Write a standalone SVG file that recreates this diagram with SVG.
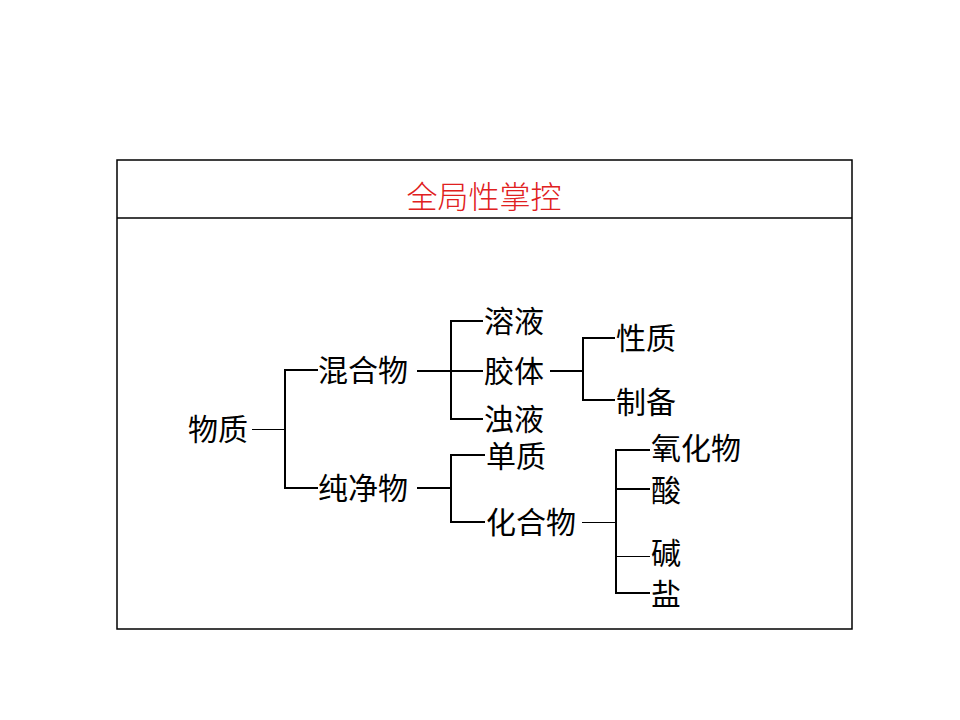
<svg xmlns="http://www.w3.org/2000/svg" width="960" height="720" viewBox="0 0 960 720">
  <style>
    .frame { fill: none; stroke: #000; stroke-width: 1.5; }
    .title { font-family: "Noto Sans CJK SC", sans-serif; font-size: 31px; fill: #e02020; font-weight: 300; }
    .label { font-family: "Noto Sans CJK SC", sans-serif; font-size: 30px; fill: #000; }
    .thick { fill: none; stroke: #000; stroke-width: 2; }
    .thin { fill: none; stroke: #000; stroke-width: 1; shape-rendering: crispEdges; }
  </style>
  <rect width="960" height="720" fill="#fff"/>

  <!-- table frame with heading row -->
  <g id="frame">
    <rect class="frame" x="117" y="160" width="735" height="469"/>
    <line class="frame" x1="117" y1="218" x2="852" y2="218"/>
    <text class="title" x="484" y="194" text-anchor="middle" dominant-baseline="central">全局性掌控</text>
  </g>

  <!-- connectors -->
  <g id="connectors">
    <path class="thin" d="M252 429.5 H285"/>
    <path class="thick" d="M318 370 H285 V488 H318"/>
    <path class="thick" d="M417 371 H483 M483 321 H451 V419 H483"/>
    <path class="thick" d="M417 488 H451 M485 455 H451 V522 H485"/>
    <path class="thick" d="M550 371 H583 M615 338 H583 V400 H615"/>
    <path class="thin" d="M582 522.5 H616"/>
    <path class="thick" d="M650 450 H616 V593 H650 M616 489 H650"/>
    <path class="thin" d="M616 556.5 H650"/>
  </g>

  <g id="n-wuzhi"><text class="label" x="188" y="427" dominant-baseline="central">物质</text></g>
  <g id="n-hunhewu"><text class="label" x="318" y="368" dominant-baseline="central">混合物</text></g>
  <g id="n-chunjingwu"><text class="label" x="318" y="486" dominant-baseline="central">纯净物</text></g>
  <g id="n-rongye"><text class="label" x="484" y="319" dominant-baseline="central">溶液</text></g>
  <g id="n-jiaoti"><text class="label" x="484" y="369" dominant-baseline="central">胶体</text></g>
  <g id="n-zhuoye"><text class="label" x="484" y="417" dominant-baseline="central">浊液</text></g>
  <g id="n-xingzhi"><text class="label" x="616" y="336" dominant-baseline="central">性质</text></g>
  <g id="n-zhibei"><text class="label" x="616" y="400" dominant-baseline="central">制备</text></g>
  <g id="n-danzhi"><text class="label" x="486" y="454" dominant-baseline="central">单质</text></g>
  <g id="n-huahewu"><text class="label" x="486" y="520" dominant-baseline="central">化合物</text></g>
  <g id="n-yanghuawu"><text class="label" x="651" y="446" dominant-baseline="central">氧化物</text></g>
  <g id="n-suan"><text class="label" x="651" y="488" dominant-baseline="central">酸</text></g>
  <g id="n-jian"><text class="label" x="651" y="551" dominant-baseline="central">碱</text></g>
  <g id="n-yan"><text class="label" x="651" y="592" dominant-baseline="central">盐</text></g>
</svg>
